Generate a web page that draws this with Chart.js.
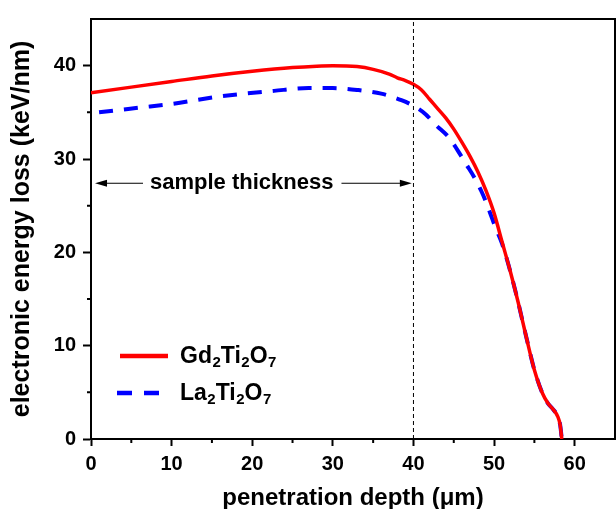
<!DOCTYPE html>
<html>
<head>
<meta charset="utf-8">
<title>electronic energy loss</title>
<script src="https://cdn.jsdelivr.net/npm/chart.js@4"></script>
<style>
  html, body { margin: 0; padding: 0; background: #fff; }
  canvas { display: block; }
</style>
</head>
<body>
<canvas id="lossChart" width="616" height="509"></canvas>
<script>
// Gd2Ti2O7 curve (depth in um, loss in keV/nm)
var depthGd = [0, 5, 10, 15, 20, 25, 28, 30, 33, 35, 37, 38, 39, 40, 41, 42, 43, 44, 45, 46, 47, 48, 49, 50, 51, 52, 53, 54, 55, 56, 56.7, 57.3, 57.9, 58.2, 58.4];
var lossGd  = [37.1, 37.7, 38.3, 38.9, 39.4, 39.8, 39.95, 40.0, 39.9, 39.6, 39.1, 38.7, 38.4, 38.0, 37.4, 36.4, 35.4, 34.4, 33.2, 31.8, 30.3, 28.6, 26.6, 24.2, 21.1, 18.0, 14.6, 10.9, 7.4, 4.9, 3.8, 3.2, 2.4, 1.5, 0];

// La2Ti2O7 curve
var depthLa = [1, 6, 10, 16, 22.7, 27, 30, 33, 36, 38.5, 40, 41.5, 42.7, 44.5, 45.5, 46.5, 47.7, 48.4, 49, 49.6, 50.2, 51, 52, 53, 54, 55, 56, 56.7, 57.3, 57.9, 58.2, 58.4];
var lossLa  = [35.0, 35.5, 35.9, 36.7, 37.3, 37.6, 37.6, 37.4, 37.0, 36.3, 35.7, 34.8, 33.7, 32.2, 30.9, 29.5, 27.8, 26.6, 25.4, 24.0, 22.6, 20.9, 18.0, 14.6, 10.9, 7.4, 4.9, 3.8, 3.2, 2.4, 1.5, 0];

// sample thickness marker + annotation
var thicknessDepth = [40, 40];
var thicknessLoss  = [0, 45];
var arrowRange = [0.5, 39.8];
var arrowLevel = 27.4;
var arrowLabelAt = 18.7;

// axes
var xRange = [0, 65];
var yRange = [0, 45];
var majorStep = 10;

var seriesNames = ["Gd", "La"];

function toPoints(xs, ys) {
  var pts = [];
  for (var i = 0; i < xs.length; i++) {
    pts.push({ x: xs[i], y: ys[i] });
  }
  return pts;
}

var FONT = "'Liberation Sans', Arial, sans-serif";
Chart.defaults.font.family = FONT;
Chart.defaults.font.weight = "bold";
Chart.defaults.color = "#000";

// draws formula like Gd2Ti2O7 with subscript digits
function drawFormula(ctx, parts, x, y, big, small) {
  var cx = x;
  for (var i = 0; i < parts.length; i++) {
    var isSub = /^[0-9]+$/.test(parts[i]);
    ctx.font = "bold " + (isSub ? small : big) + "px " + FONT;
    ctx.fillText(parts[i], cx, isSub ? y + 4 : y);
    cx += ctx.measureText(parts[i]).width + (isSub ? 0 : 0.5);
  }
}

var extrasPlugin = {
  id: "extras",
  afterDraw: function(chart) {
    var ctx = chart.ctx;
    var area = chart.chartArea;
    var xs = chart.scales.x;
    var ys = chart.scales.y;
    ctx.save();

    // frame top + right
    ctx.strokeStyle = "#000";
    ctx.lineWidth = 2;
    ctx.beginPath();
    ctx.moveTo(area.left, area.top);
    ctx.lineTo(area.right, area.top);
    ctx.lineTo(area.right, area.bottom);
    ctx.stroke();

    // minor ticks half way between majors
    ctx.lineWidth = 2;
    ctx.beginPath();
    for (var v = xRange[0] + majorStep / 2; v < xRange[1]; v += majorStep) {
      var px = xs.getPixelForValue(v);
      ctx.moveTo(px, area.bottom);
      ctx.lineTo(px, area.bottom + 4);
    }
    for (var w = yRange[0] + majorStep / 2; w < yRange[1]; w += majorStep) {
      var py = ys.getPixelForValue(w);
      ctx.moveTo(area.left, py);
      ctx.lineTo(area.left - 4, py);
    }
    ctx.stroke();

    // sample thickness arrow
    var ay = ys.getPixelForValue(arrowLevel);
    var a0 = xs.getPixelForValue(arrowRange[0]);
    var a1 = xs.getPixelForValue(arrowRange[1]);
    var mid = xs.getPixelForValue(arrowLabelAt);
    ctx.font = "bold 22px " + FONT;
    var label = "sample thickness";
    var tw = ctx.measureText(label).width;
    ctx.fillStyle = "#000";
    ctx.textAlign = "center";
    ctx.textBaseline = "middle";
    ctx.fillText(label, mid, ay);
    ctx.lineWidth = 1.2;
    ctx.beginPath();
    ctx.moveTo(a0 + 4, ay);
    ctx.lineTo(mid - tw / 2 - 7, ay);
    ctx.moveTo(mid + tw / 2 + 8, ay);
    ctx.lineTo(a1 - 4, ay);
    ctx.stroke();
    ctx.beginPath();
    ctx.moveTo(a0, ay);
    ctx.lineTo(a0 + 12, ay - 3.5);
    ctx.lineTo(a0 + 12, ay + 3.5);
    ctx.closePath();
    ctx.moveTo(a1, ay);
    ctx.lineTo(a1 - 12, ay - 3.5);
    ctx.lineTo(a1 - 12, ay + 3.5);
    ctx.closePath();
    ctx.fill();

    // legend
    var lx = area.left + 29;
    var ly = area.top + 337;
    ctx.lineCap = "butt";
    ctx.strokeStyle = "#ff0000";
    ctx.lineWidth = 4.5;
    ctx.beginPath();
    ctx.moveTo(lx, ly);
    ctx.lineTo(lx + 48, ly);
    ctx.stroke();
    ctx.strokeStyle = "#0000ff";
    ctx.setLineDash([15, 12]);
    ctx.beginPath();
    ctx.moveTo(lx - 3, ly + 37);
    ctx.lineTo(lx + 51, ly + 37);
    ctx.stroke();
    ctx.setLineDash([]);
    ctx.textAlign = "left";
    ctx.textBaseline = "alphabetic";
    ctx.fillStyle = "#000";
    drawFormula(ctx, [seriesNames[0], "2", "Ti", "2", "O", "7"], lx + 60, ly + 7, 23, 15);
    drawFormula(ctx, [seriesNames[1], "2", "Ti", "2", "O", "7"], lx + 60, ly + 44, 23, 15);

    ctx.restore();
  }
};

var ctx = document.getElementById("lossChart").getContext("2d");

var lossChart = new Chart(ctx, {
  type: "line",
  data: {
    datasets: [
      {
        label: "thickness",
        data: toPoints(thicknessDepth, thicknessLoss),
        borderColor: "#000",
        borderWidth: 1,
        borderDash: [4, 3],
        pointRadius: 0,
        fill: false
      },
      {
        label: "Gd2Ti2O7",
        data: toPoints(depthGd, lossGd),
        borderColor: "#ff0000",
        borderWidth: 3.5,
        pointRadius: 0,
        cubicInterpolationMode: "monotone",
        fill: false
      },
      {
        label: "La2Ti2O7",
        data: toPoints(depthLa, lossLa),
        borderColor: "#0000ff",
        borderWidth: 4,
        borderDash: [14, 11],
        pointRadius: 0,
        cubicInterpolationMode: "monotone",
        fill: false
      }
    ]
  },
  options: {
    responsive: false,
    animation: false,
    layout: { padding: { top: 14, right: 1, left: 0, bottom: 0 } },
    plugins: {
      legend: { display: false },
      tooltip: { enabled: false }
    },
    scales: {
      x: {
        type: "linear",
        min: xRange[0],
        max: xRange[1],
        border: { color: "#000", width: 2 },
        grid: { drawOnChartArea: false, drawTicks: true, tickLength: 7, tickColor: "#000", tickWidth: 2 },
        ticks: { stepSize: majorStep, padding: 6, font: { size: 20, weight: "bold" }, color: "#000", maxRotation: 0 },
        afterBuildTicks: function(scale) {
          scale.ticks = scale.ticks.filter(function(t) { return t.value % majorStep === 0; });
        },
        afterFit: function(scale) { scale.height = 70; },
        title: {
          display: true,
          text: "penetration depth (\u03bcm)",
          font: { size: 24, weight: "bold", lineHeight: 1 },
          color: "#000",
          padding: { top: 0, bottom: -1 }
        }
      },
      y: {
        type: "linear",
        min: yRange[0],
        max: yRange[1],
        border: { color: "#000", width: 2 },
        grid: { drawOnChartArea: false, drawTicks: true, tickLength: 8, tickColor: "#000", tickWidth: 2 },
        ticks: { stepSize: majorStep, padding: 7, font: { size: 20, weight: "bold" }, color: "#000" },
        afterBuildTicks: function(scale) {
          scale.ticks = scale.ticks.filter(function(t) { return t.value % majorStep === 0; });
        },
        afterFit: function(scale) { scale.width = 91; },
        title: {
          display: true,
          text: "electronic energy loss (keV/nm)",
          font: { size: 25, weight: "bold", lineHeight: 1 },
          color: "#000",
          padding: { top: 10, bottom: 0 }
        }
      }
    }
  },
  plugins: [extrasPlugin]
});
</script>
</body>
</html>
